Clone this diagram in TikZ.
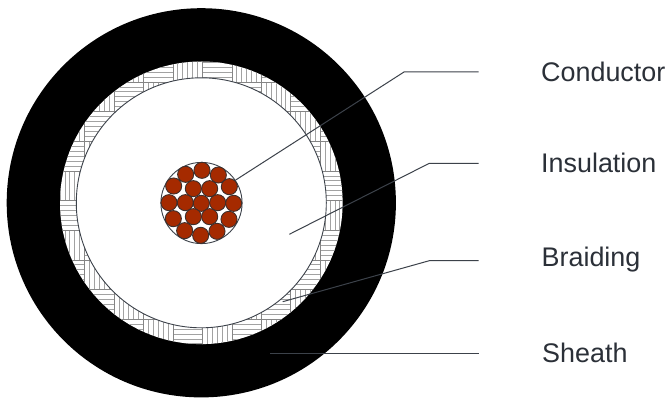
\documentclass[tikz,border=0pt]{standalone}
\usepackage{fontspec}
\setmainfont{Liberation Sans}
\definecolor{ink}{HTML}{3C424A}
\definecolor{txt}{HTML}{2B3038}
\definecolor{copper}{HTML}{A52A00}
\definecolor{strandedge}{HTML}{3F2F2C}
\definecolor{hatch}{HTML}{A2A2A2}
\definecolor{tileedge}{HTML}{858585}
\tikzset{
  leader/.style={draw=ink,line width=1pt},
  strand/.style={fill=copper,draw=strandedge,line width=0.9pt},
  lbl/.style={anchor=base west,inner sep=0pt,text=txt,font=\fontsize{26.9}{30}\selectfont},
  hatchline/.style={draw=hatch,line width=1pt},
  tileline/.style={draw=tileedge,line width=0.8pt}
}
\begin{document}
\begin{tikzpicture}[x=1pt,y=-1pt]
\useasboundingbox (0,0) rectangle (668,398);
\fill[white] (0,0) rectangle (668,398);
\def\cx{201.3}\def\cy{202.8}
% sheath
\fill[black] (\cx,\cy) circle[radius=194.6];
\fill[white] (\cx,\cy) circle[radius=141.3];
% braiding tiles
\begin{scope}
\clip (\cx,\cy) circle[radius=141.3];
\foreach \i in {-5,...,6}{
  \foreach \j in {-2,...,11}{
    \pgfmathsetmacro{\xa}{173+29.45*\i}
    \pgfmathsetmacro{\ya}{52.5+29.65*\j}
    \pgfmathtruncatemacro{\parity}{abs(\i+\j)}
    \ifodd\parity
      \foreach \k in {1,...,5}{
        \draw[hatchline] (\xa,\ya+\k*4.92) -- ++(29.45,0);
      }
    \else
      \foreach \k in {1,...,5}{
        \draw[hatchline] (\xa+\k*4.92,\ya) -- ++(0,29.65);
      }
    \fi
    \draw[tileline] (\xa,\ya) rectangle ++(29.45,29.65);
  }
}
\end{scope}
% insulation
\filldraw[fill=white,draw=ink,line width=0.9pt] (\cx,\cy) circle[radius=125];
% conductor
\filldraw[fill=white,draw=ink,line width=0.9pt] (201.5,203) circle[radius=40.6];
\foreach \X/\Y in {186/91,137/103,235/105,101/138,268/140,160/146,209/146,87/188,136/188,184/190,233/188,281/190,100/236,160/230,209/230,267/238,134/272,231/274,182/286}{
  \draw[strand] (140+\X/3,140+\Y/3) circle[radius=8.05];
}
% labels
\node[lbl] (conductor) at (541,82) {Conductor};
\node[lbl] (insulation) at (541,172.5) {Insulation};
\node[lbl] (braiding) at (541.5,266.5) {Braiding};
\node[lbl] (sheath) at (542,362) {Sheath};
% leaders
\coordinate (c0) at (235.7,180); \coordinate (c1) at (404,72); \coordinate (c2) at (478.7,72);
\coordinate (i0) at (289.3,234.3); \coordinate (i1) at (429.3,163.3); \coordinate (i2) at (478.7,163.3);
\coordinate (b0) at (282.7,301.7); \coordinate (b1) at (429.3,260.7); \coordinate (b2) at (478.7,260.7);
\coordinate (s0) at (270,353.5); \coordinate (s2) at (478.7,353.5);
\draw[leader] (c0) -- (c1) -- (c2);
\draw[leader] (i0) -- (i1) -- (i2);
\draw[leader] (b0) -- (b1) -- (b2);
\draw[leader] (s0) -- (s2);
\end{tikzpicture}
\end{document}
